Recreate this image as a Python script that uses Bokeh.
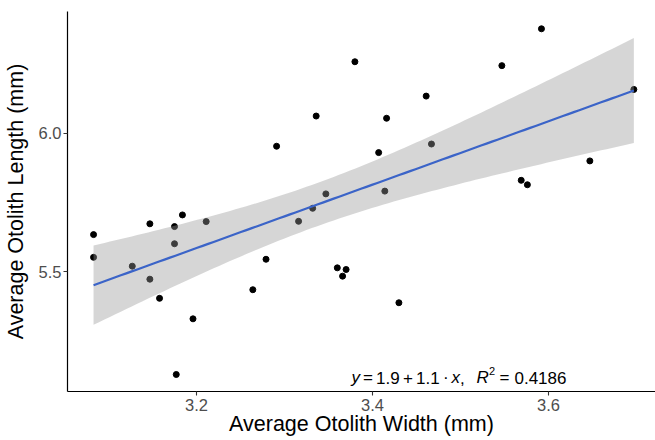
import numpy as np
from bokeh.plotting import figure
from bokeh.models import Range1d, FixedTicker, Label
from bokeh.embed import file_html
from bokeh.resources import INLINE

# ---- data ----
otolith_width = [3.083, 3.083, 3.127, 3.147, 3.147, 3.158, 3.175, 3.175, 3.177, 3.184,
                 3.196, 3.211, 3.264, 3.279, 3.291, 3.316, 3.332, 3.336, 3.347, 3.360,
                 3.366, 3.370, 3.380, 3.407, 3.414, 3.416, 3.430, 3.461, 3.467, 3.547,
                 3.569, 3.576, 3.592, 3.647, 3.697]
otolith_length = [5.635, 5.553, 5.521, 5.674, 5.474, 5.405, 5.664, 5.602, 5.130, 5.706,
                  5.331, 5.682, 5.436, 5.546, 5.954, 5.683, 5.730, 6.063, 5.782, 5.515,
                  5.485, 5.509, 6.259, 5.931, 5.792, 6.055, 5.389, 6.135, 5.962, 6.245,
                  5.831, 5.815, 6.378, 5.901, 6.159]
x_ticks = [3.2, 3.4, 3.6]
x_tick_labels = ["3.2", "3.4", "3.6"]
y_ticks = [5.5, 6.0]
y_tick_labels = ["5.5", "6.0"]
eq_intercept = "1.9"
eq_slope = "1.1"
eq_r2 = "0.4186"

# ---- linear fit with 95% confidence band ----
x = np.array(otolith_width)
y = np.array(otolith_length)
n = len(x)
xbar, ybar = x.mean(), y.mean()
sxx = ((x - xbar) ** 2).sum()
b1 = ((x - xbar) * (y - ybar)).sum() / sxx
b0 = ybar - b1 * xbar
resid = y - (b0 + b1 * x)
s = np.sqrt((resid ** 2).sum() / (n - 2))
t_crit = 2.0345  # t(0.975, df=33)
xs = np.linspace(x.min(), x.max(), 100)
fit = b0 + b1 * xs
se = s * np.sqrt(1.0 / n + (xs - xbar) ** 2 / sxx)
lower = fit - t_crit * se
upper = fit + t_crit * se

FONT = "Liberation Sans"

p = figure(width=655, height=440,
           x_range=Range1d(3.0534, 3.7216), y_range=Range1d(5.0686, 6.4404),
           output_backend="svg", toolbar_location=None,
           min_border_left=67, min_border_right=0, min_border_top=11, min_border_bottom=49)
p.outline_line_color = None
p.xgrid.visible = False
p.ygrid.visible = False
p.background_fill_color = "white"
p.border_fill_color = "white"

# points first, then the translucent ribbon over them (as ggplot does)
p.scatter(x, y, size=6, color="black")
p.varea(x=xs, y1=lower, y2=upper, fill_color="#999999", fill_alpha=0.4)
p.line(xs, fit, line_color="#3B64C8", line_width=2.2)

for ax in (p.xaxis[0], p.yaxis[0]):
    ax.axis_line_color = "black"
    ax.axis_line_width = 1.2
    ax.major_tick_line_color = "#333333"
    ax.major_tick_line_width = 1.1
    ax.major_tick_out = 4
    ax.major_tick_in = 0
    ax.minor_tick_line_color = None
    ax.major_label_text_font = FONT
    ax.major_label_text_font_size = "16.5px"
    ax.major_label_text_color = "#4D4D4D"
    ax.axis_label_text_font = FONT
    ax.axis_label_text_font_size = "21.5px"
    ax.axis_label_text_font_style = "normal"
    ax.axis_label_text_color = "black"

p.xaxis.ticker = FixedTicker(ticks=x_ticks)
p.xaxis.major_label_overrides = dict(zip(x_ticks, x_tick_labels))
p.yaxis.ticker = FixedTicker(ticks=y_ticks)
p.yaxis.major_label_overrides = dict(zip(y_ticks, y_tick_labels))
p.xaxis.axis_label = "Average Otolith Width (mm)"
p.yaxis.axis_label = "Average Otolith Length (mm)"
p.xaxis.major_label_standoff = 3
p.xaxis.axis_label_standoff = -2
p.yaxis.major_label_standoff = 2
p.yaxis.axis_label_standoff = 8

# equation annotation, built from pieces
ax0, ay0 = 3.3761, 5.1191
pieces = [
    ("y", 0, 0, "italic", "17px"),
    ("=", 11.5, 0, "normal", "17px"),
    (eq_intercept, 24.5, 0, "normal", "17px"),
    ("+", 51.5, 0, "normal", "17px"),
    (eq_slope, 64.5, 0, "normal", "17px"),
    ("\u00b7", 91.5, 0, "normal", "17px"),
    ("x", 100, 0, "italic", "17px"),
    (",", 108.5, 0, "normal", "17px"),
    ("R", 125, 0, "italic", "17px"),
    ("2", 137.5, 7, "normal", "11px"),
    ("=", 148, 0, "normal", "17px"),
    (eq_r2, 163, 0, "normal", "17px"),
]
for txt, dx, dy, style, size in pieces:
    p.add_layout(Label(x=ax0, y=ay0, x_offset=dx, y_offset=dy, text=txt,
                       text_font=FONT, text_font_style=style, text_font_size=size,
                       text_color="black", text_baseline="alphabetic", text_align="left"))

open("out.html", "w").write(file_html(p, INLINE))
